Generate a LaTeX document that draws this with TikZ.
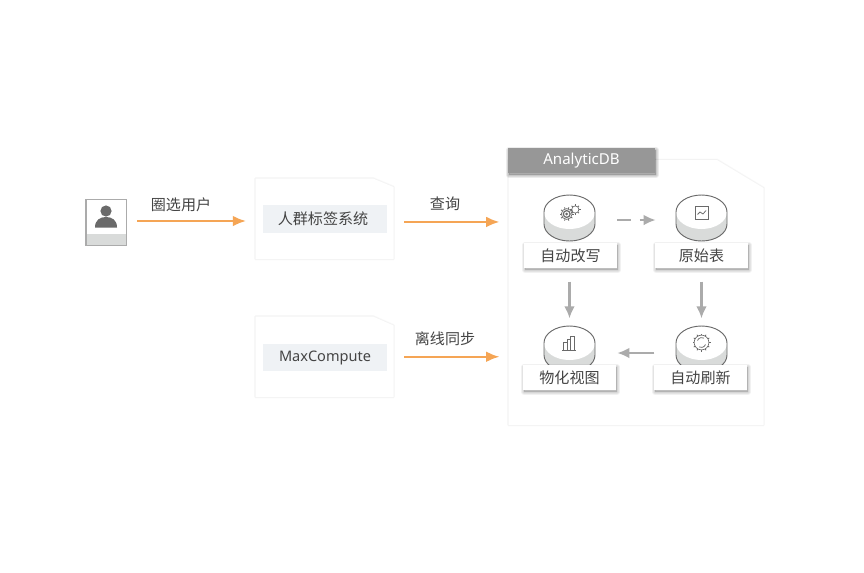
\documentclass[tikz,border=0pt]{standalone}
\usepackage{fontspec}
\setmainfont{Noto Sans CJK SC}
\newfontfamily\latinfont{Noto Sans}
\usetikzlibrary{arrows.meta}
\definecolor{flowOrange}{HTML}{F5A555}
\definecolor{flowGrey}{HTML}{ABABAB}
\definecolor{iconGrey}{HTML}{6A6A6A}
\definecolor{diskGrey}{HTML}{D9DBDA}
\definecolor{tagBlue}{HTML}{EFF2F5}
\definecolor{headGrey}{HTML}{979797}
\definecolor{inkGrey}{HTML}{444444}
\tikzset{
  every node/.style={font=\fontsize{11.3}{13}\selectfont, text=inkGrey, inner sep=0pt},
  softedge/.style={preaction={draw=black, draw opacity=#1, line width=2.2pt, line join=round},
    preaction={draw=black, draw opacity=#1, line width=1.2pt, line join=round}},
  softdrop/.style={preaction={draw=black, fill=black, opacity=#1, line width=4pt, line join=round, transform canvas={xshift=0.8pt, yshift=-1.4pt}},
    preaction={draw=black, fill=black, opacity=#1, line width=2.6pt, line join=round, transform canvas={xshift=0.8pt, yshift=-1.4pt}},
    preaction={draw=black, fill=black, opacity=#1, line width=1.2pt, line join=round, transform canvas={xshift=0.8pt, yshift=-1.4pt}}},
  sheet/.style={fill=white, softedge=0.025},
  tag/.style={fill=tagBlue, minimum width=93pt, minimum height=20.5pt},
  plate/.style={fill=white, minimum width=69.75pt, minimum height=18.75pt, softdrop=0.055},
  disk/.style={minimum width=38.25pt, minimum height=34.5pt},
  orangeflow/.style={draw=flowOrange, line width=1.8pt, -{Latex[length=10pt,width=8pt]}},
  greyflow/.style={draw=flowGrey, line width=1.8pt, -{Latex[length=9pt,width=8pt]}},
  iconline/.style={draw=iconGrey, line width=0.55pt},
}
% one disk: cx, cy of the top face
\newcommand{\diskshape}[2]{
  \fill[diskGrey] (#1-25.5,#2) arc[start angle=180,end angle=360,x radius=25.5,y radius=17]
    -- (#1+25.5,#2+12) arc[start angle=0,end angle=180,x radius=25.5,y radius=17] -- cycle;
  \fill[white] (#1,#2) ellipse [x radius=25.5, y radius=17];
  \draw[iconGrey, line width=0.7pt] (#1-25.5,#2) arc[start angle=180,end angle=360,x radius=25.5,y radius=17]
    -- (#1+25.5,#2+12) arc[start angle=0,end angle=180,x radius=25.5,y radius=17] -- cycle;
}
% toothed wheel: cx, cy, radius, tooth count
\newcommand{\gearshape}[4]{
  \foreach \a in {1,...,#4} \draw[iconGrey, line width=0.6pt] (#1,#2) ++({\a*360/#4}:#3-1) -- ++({\a*360/#4}:1.6);
  \draw[iconGrey, line width=0.5pt] (#1,#2) circle [radius=#3-1];
}
\begin{document}
\begin{tikzpicture}[x=0.75pt, y=-0.75pt]
  \path[use as bounding box, fill=white] (0,0) rectangle (864,572);

  % person
  \fill[diskGrey] (86,234) rectangle (126.5,245.5);
  \node (userBox) [draw=flowGrey, line width=1pt, minimum width=30.5pt, minimum height=34.5pt] at (106.25,222.75) {};
  \fill[iconGrey] (106,211) circle [radius=5.6];
  \fill[iconGrey] (95,227.5) .. controls (95,220) and (100,217) .. (106,217) .. controls (112,217) and (117,220) .. (117,227.5) -- cycle;

  % left sheets
  \path[sheet] (255.5,178.5) -- (373,178.5) -- (393.5,187) -- (393.5,259) -- (255.5,259) -- cycle;
  \path[sheet] (255.5,316.5) -- (373,316.5) -- (393.5,325.5) -- (393.5,397) -- (255.5,397) -- cycle;
  \node (sheetA) [minimum width=103.5pt, minimum height=60.4pt] at (324.5,218.75) {};
  \node (sheetB) [minimum width=103.5pt, minimum height=60.4pt] at (324.5,356.75) {};
  \node (tagA) [tag] at (325,219) {\hspace*{-3pt}\raisebox{-0.6pt}{人群标签系统}};
  \node (tagB) [tag, font=\fontsize{10.9}{13}\selectfont] at (325,357.5) {\latinfont\raisebox{-0.6pt}{MaxCompute}};

  % AnalyticDB sheet
  \path[sheet] (508.5,160) -- (717,160) -- (763.5,188) -- (763.5,425) -- (508.5,425) -- cycle;
  \node (adbSheet) [minimum width=191.25pt, minimum height=198.75pt] at (636,292.5) {};
  \node (adbHead) [fill=headGrey, text=white, minimum width=110.25pt, minimum height=18.75pt, softdrop=0.075] at (581.5,160.5) {\latinfont\raisebox{-0.6pt}{AnalyticDB}};

  % disks
  \diskshape{569.5}{212}
  \diskshape{701.5}{212}
  \diskshape{569.5}{343}
  \diskshape{701.5}{343}
  \node (diskA) [disk] at (569.5,218) {};
  \node (diskB) [disk] at (701.5,218) {};
  \node (diskC) [disk] at (569.5,349) {};
  \node (diskD) [disk] at (701.5,349) {};

  % icons
  \fill[iconGrey] (566.7,214) circle [radius=1.5];
  \gearshape{566.7}{214}{6.4}{10}
  \draw[iconGrey, line width=0.9pt] (566.7,214) circle [radius=3.4];
  \gearshape{575.3}{209.5}{4.6}{8}
  \draw[iconline] (695,206.5) rectangle (708,219.5);
  \draw[iconline] (697.5,214.5) -- (700,212) -- (703,214) -- (706,210.5);
  \draw[iconline] (562,350.5) -- (576,350.5);
  \draw[iconline] (563.5,350.5) -- (563.5,342) -- (567,342) -- (567,350.5);
  \draw[iconline] (567,350.5) -- (567,339.5) -- (570.5,339.5) -- (570.5,350.5);
  \draw[iconline] (570.5,350.5) -- (570.5,336) -- (574.5,336) -- (574.5,350.5);
  \gearshape{701.5}{342.5}{8.4}{12}
  \draw[iconline] (697.5,340.5) arc[start angle=200,end angle=300,radius=4.5];
  \draw[iconline] (705.5,344.5) arc[start angle=20,end angle=120,radius=4.5];

  % plates
  \node (plateA) [plate] at (570.5,255.5) {自动改写};
  \node (plateB) [plate] at (701.5,255.5) {原始表};
  \node (plateC) [plate] at (569.5,377.5) {物化视图};
  \node (plateD) [plate] at (700.5,377.5) {自动刷新};

  % orange flows
  \draw[orangeflow, shorten <=7.5pt, shorten >=6.8pt] ([yshift=1.3pt]userBox.east) -- ([yshift=1.3pt]userBox.east -| sheetA.west);
  \draw[orangeflow, shorten <=7.9pt, shorten >=6.5pt] ([yshift=-2.4pt]sheetA.east) -- ([yshift=-2.4pt]sheetA.east -| adbSheet.west);
  \draw[orangeflow, shorten <=7.9pt, shorten >=6.5pt] (sheetB.east) -- (sheetB.east -| adbSheet.west);
  \node (pickLabel) at (181,204.5) {圈选用户};
  \node (queryLabel) at (445,203.5) {查询};
  \node (syncLabel) at (445,338.5) {离线同步};

  % grey flows
  \draw[greyflow, dash pattern=on 10pt off 7pt, shorten <=16.5pt, shorten >=15pt] ([yshift=-1.5pt]diskA.east) -- ([yshift=-1.5pt]diskA.east -| diskB.west);
  \draw[greyflow, shorten <=10pt, shorten >=5.5pt] (plateA.south -| diskA) -- (diskC.north);
  \draw[greyflow, shorten <=10pt, shorten >=5.5pt] (plateB.south -| diskB) -- (diskD.north);
  \draw[greyflow, shorten <=16pt, shorten >=16.5pt] ([yshift=-3pt]diskD.west) -- ([yshift=-3pt]diskD.west -| diskC.east);
\end{tikzpicture}
\end{document}
